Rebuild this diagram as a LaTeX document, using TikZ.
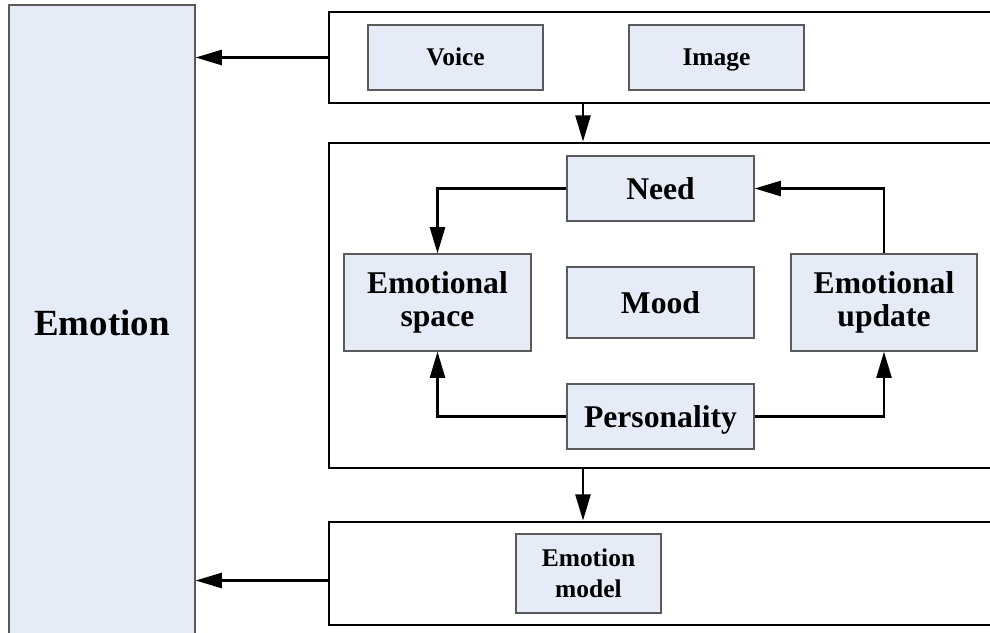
\documentclass[tikz,border=0pt]{standalone}
\usepackage{fontspec}
\setmainfont{Liberation Serif}
\usetikzlibrary{positioning, arrows.meta, calc}
\definecolor{boxfill}{HTML}{E6ECF7}
\definecolor{boxline}{HTML}{5A5A5A}

\begin{document}
\begin{tikzpicture}[font=\bfseries,
  unit/.style={rectangle, draw=boxline, line width=0.6pt, fill=boxfill, align=center, inner sep=0pt},
  small/.style={unit, font=\bfseries\fontsize{14.5}{17.5}\selectfont},
  mid/.style={unit, font=\bfseries\fontsize{18}{19}\selectfont},
  smallone/.style={small, text height=12pt, text depth=2.4pt},
  midone/.style={mid, text height=15pt, text depth=3pt},
  frame/.style={rectangle, draw=black, line width=1.5pt, inner sep=0pt},
  arrow/.style={-{Triangle[length=15pt, width=8.5pt]}, line width=1.6pt, black}
]
  \clip (0,0) rectangle (19.8,-12.64);

  % left column
  \node[unit, minimum width=3.72cm, minimum height=12.7cm, font=\bfseries\fontsize{21}{24}\selectfont] (emo) at (2.04,-6.45) {Emotion};

  % three frames on the right
  \node[frame, minimum width=13.52cm, minimum height=1.82cm] (inp) at (13.34,-1.15) {};
  \node[frame, minimum width=13.52cm, minimum height=6.5cm] (core) at (13.34,-6.11) {};
  \node[frame, minimum width=13.52cm, minimum height=2.06cm] (out) at (13.34,-11.47) {};

  \node[smallone, minimum width=3.5cm, minimum height=1.3cm] (voice) at (9.11,-1.15) {Voice};
  \node[smallone, minimum width=3.5cm, minimum height=1.3cm] (image) at (14.33,-1.15) {Image};

  \node[midone, minimum width=3.74cm, minimum height=1.3cm] (need) at (13.21,-3.77) {Need};
  \node[mid, minimum width=3.74cm, minimum height=1.94cm] (space) at (8.75,-6.05) {Emotional\\space};
  \node[midone, minimum width=3.74cm, minimum height=1.42cm] (mood) at (13.21,-6.05) {Mood};
  \node[mid, minimum width=3.72cm, minimum height=1.94cm] (update) at (17.68,-6.05) {Emotional\\update};
  \node[midone, minimum width=3.74cm, minimum height=1.3cm] (pers) at (13.21,-8.33) {Personality};

  \node[small, minimum width=2.9cm, minimum height=1.58cm] (model) at (11.77,-11.47) {Emotion\\model};

  \coordinate (flow) at (11.66,0);
  \coordinate (outport) at ([yshift=-0.14cm]out.west);

  \draw[arrow] (inp.west) -- (emo.east |- inp.west);
  \draw[arrow] (outport) -- (emo.east |- outport);
  \draw[arrow] (inp.south -| flow) -- (core.north -| flow);
  \draw[arrow] (core.south -| flow) -- (out.north -| flow);

  \draw[arrow] (need.west) -| (space.north);
  \draw[arrow] (update.north) |- (need.east);
  \foreach \t in {space, update} {
    \draw[arrow] (pers) -| (\t.south);
  }
\end{tikzpicture}
\end{document}
